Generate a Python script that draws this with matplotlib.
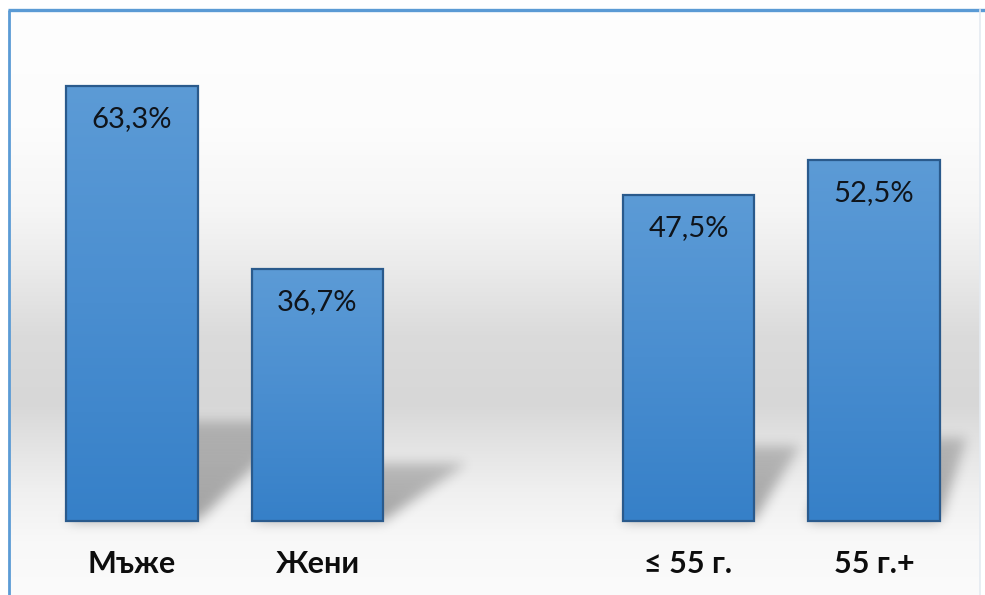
import numpy as np
import matplotlib
matplotlib.use("Agg")
import matplotlib.pyplot as plt
from matplotlib.colors import LinearSegmentedColormap

categories = ["Мъже", "Жени", "≤ 55 г.", "55 г.+"]
values = [63.3, 36.7, 47.5, 52.5]
value_labels = ["63,3%", "36,7%", "47,5%", "52,5%"]
positions = [0, 1, 3, 4]  # empty slot between the gender and age groups

FONT = ["Lato", "DejaVu Sans"]
W, H = 985, 595


def blur(img, sigma):
    r = int(3 * sigma)
    k = np.exp(-0.5 * (np.arange(-r, r + 1) / sigma) ** 2)
    k /= k.sum()
    img = np.apply_along_axis(lambda m: np.convolve(m, k, mode="same"), 0, img)
    img = np.apply_along_axis(lambda m: np.convolve(m, k, mode="same"), 1, img)
    return img


fig = plt.figure(figsize=(W / 100, H / 100), dpi=100)
fig.patch.set_facecolor("white")

# backdrop: grey band across the middle, white frame edges
bg = fig.add_axes([0, 0, 1, 1])
bg.set_xlim(0, W)
bg.set_ylim(H, 0)
bg.axis("off")
stops_y = [0, 10, 120, 200, 260, 330, 400, 440, 490, 540, 595]
stops_g = [255, 254, 252, 246, 235, 219, 215, 227, 240, 248, 251]
col = np.interp(np.arange(H), stops_y, stops_g) / 255.0
bg.imshow(np.repeat(col[:, None], 3, axis=1)[:, None, :].repeat(2, axis=1),
          extent=(9, 980, H, 10), aspect="auto", interpolation="bilinear", zorder=0)
bg.plot([8, W], [10, 10], color="#5B9BD5", lw=2.4, solid_capstyle="butt", zorder=2)
bg.plot([9, 9], [10, H], color="#5B9BD5", lw=2.0, solid_capstyle="butt", zorder=2)
bg.plot([980, 980], [10, H], color="#E4EAF1", lw=1.2, zorder=2)

# chart axes laid over the whole figure
ax = fig.add_axes([0, 0, 1, 1])
ax.patch.set_alpha(0)
x0_px, unit_px = 132, 185.5
base_px, pct_px = 521, 6.872
xlim = (-x0_px / unit_px, (W - x0_px) / unit_px)
ylim = (-(H - base_px) / pct_px, base_px / pct_px)

bars = ax.bar(positions, values, width=0.71, color="none",
              edgecolor="#2A5A8C", linewidth=1.6, zorder=3)

# gradient fill inside each bar
cmap = LinearSegmentedColormap.from_list("bar", ["#5C9BD6", "#4A8ED0", "#3680C8"])
grad = np.linspace(0, 1, 256).reshape(-1, 1)
for p in bars:
    x, w, h = p.get_x(), p.get_width(), p.get_height()
    im = ax.imshow(grad, cmap=cmap, extent=(x, x + w, 0, h), origin="upper",
                   aspect="auto", zorder=2)
    im.set_clip_path(p)

# perspective floor shadows thrown back to the right
gx = np.linspace(xlim[0], xlim[1], W)
gy = np.linspace(ylim[1], ylim[0], H)
XX, YY = np.meshgrid(gx, gy)
shade = np.zeros((H, W))
for p in bars:
    x, w, h = p.get_x(), p.get_width(), p.get_height()
    depth = 0.23 * h
    skew = 0.555 - 0.102 * (x + w / 2)
    t = YY / depth
    inside = (YY >= 0) & (YY <= depth) & (XX >= x + skew * t) & (XX <= x + w + skew * t)
    shade = np.maximum(shade, inside * (1 - 0.4 * t))
shade = blur(shade, 6)
rgba = np.zeros((H, W, 4))
rgba[..., 3] = 0.34 * shade
ax.imshow(rgba, extent=(xlim[0], xlim[1], ylim[0], ylim[1]), origin="upper",
          aspect="auto", zorder=1)

for p, lab in zip(bars, value_labels):
    ax.text(p.get_x() + p.get_width() / 2, p.get_height() - 33 / pct_px, lab,
            ha="center", va="center", fontsize=21, color="#0f141b", family=FONT, zorder=4)

for xp, cat in zip(positions, categories):
    ax.text(xp, -(564 - base_px) / pct_px, cat, ha="center", va="center",
            fontsize=22, fontweight="bold", color="#0d0d0d", family=FONT, zorder=4)

ax.set_xlim(*xlim)
ax.set_ylim(*ylim)
ax.axis("off")

fig.savefig("out.png", dpi=100)
